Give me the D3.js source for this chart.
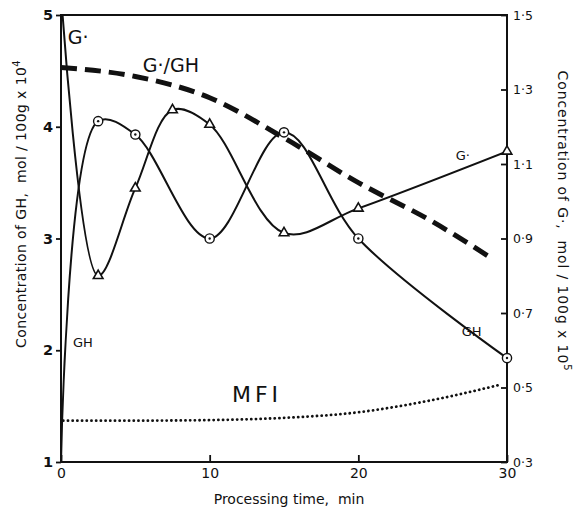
<!DOCTYPE html>
<html>
<head>
<meta charset="utf-8">
<script src="https://cdn.jsdelivr.net/npm/d3@7/dist/d3.min.js"></script>
<style>
  html, body { margin: 0; padding: 0; background: #fff; }
  svg { display: block; }
  text { font-family: "DejaVu Sans", sans-serif; fill: #111; }
</style>
</head>
<body>
<svg id="chart" width="574" height="510"></svg>
<script>
// Processing time (min)
const timeTicks = [0, 10, 20, 30];
const leftTicks = [1, 2, 3, 4, 5];
const rightTicks = [0.3, 0.5, 0.7, 0.9, 1.1, 1.3, 1.5];

// GH concentration, mol/100g x 10^4 (left axis)
const ghTimes  = [0, 2.5, 5, 10, 15, 20, 30];
const ghValues = [1.0, 4.05, 3.93, 3.0, 3.95, 3.0, 1.93];

// G· concentration, mol/100g x 10^5 (right axis)
const gTimes  = [0, 2.5, 5, 7.5, 10, 15, 20, 30];
const gValues = [1.56, 0.80, 1.035, 1.245, 1.206, 0.915, 0.981, 1.134];

// G·/GH ratio (left axis units)
const ratioTimes  = [0, 5, 10, 15, 20, 25, 29];
const ratioValues = [4.53, 4.45, 4.26, 3.90, 3.50, 3.15, 2.82];

// MFI (right axis units)
const mfiTimes  = [0.15, 5, 10, 15, 20, 25, 29.5];
const mfiValues = [0.411, 0.411, 0.4125, 0.4185, 0.4335, 0.4665, 0.507];

const svg = d3.select("#chart");
const margin = { top: 15, right: 67, bottom: 48, left: 61 };
const W = 574, H = 510;
const x0 = margin.left, x1 = W - margin.right;
const y0 = H - margin.bottom, y1 = margin.top;

const x  = d3.scaleLinear().domain([0, 30]).range([x0, x1]);
const yL = d3.scaleLinear().domain([1, 5]).range([y0, y1]);
const yR = d3.scaleLinear().domain([0.3, 1.5]).range([y0, y1]);

svg.append("defs").append("clipPath").attr("id", "plot")
  .append("rect").attr("x", x0).attr("y", y1)
  .attr("width", x1 - x0).attr("height", y0 - y1);

// Axes
function styleAxis(g, size, weight) {
  g.select(".domain").remove();
  g.selectAll(".tick line").attr("stroke", "#111").attr("stroke-width", 1.8);
  g.selectAll(".tick text").attr("font-family", "DejaVu Sans, sans-serif")
    .attr("font-size", size).attr("font-weight", weight).attr("fill", "#111");
}

svg.append("g").attr("transform", `translate(${x0},0)`)
  .call(d3.axisLeft(yL).tickValues(leftTicks).tickSize(5).tickPadding(3)
    .tickFormat(d3.format("d")))
  .call(g => styleAxis(g, 14.5, "bold"));

svg.append("g").attr("transform", `translate(0,${y0})`)
  .call(d3.axisBottom(x).tickValues(timeTicks).tickSizeInner(-7).tickSizeOuter(0).tickPadding(6)
    .tickFormat(d3.format("d")))
  .call(g => styleAxis(g, 14, "normal"));

svg.append("g").attr("transform", `translate(${x1},0)`)
  .call(d3.axisRight(yR).tickValues(rightTicks).tickSizeInner(-6).tickSizeOuter(0).tickPadding(6)
    .tickFormat(d => d3.format(".1f")(d).replace(".", "·")))
  .call(g => styleAxis(g, 12.5, "normal"));

// Frame
svg.append("rect").attr("x", x0).attr("y", y1)
  .attr("width", x1 - x0).attr("height", y0 - y1)
  .attr("fill", "none").attr("stroke", "#111").attr("stroke-width", 2);

const plot = svg.append("g").attr("clip-path", "url(#plot)");

const zip = (ts, vs) => ts.map((t, i) => ({ t, v: vs[i] }));
const ghData = zip(ghTimes, ghValues);
const gData = zip(gTimes, gValues);
const ratioData = zip(ratioTimes, ratioValues);
const mfiData = zip(mfiTimes, mfiValues);

const lineL = d3.line().x(d => x(d.t)).y(d => yL(d.v));
const lineR = d3.line().x(d => x(d.t)).y(d => yR(d.v));

// G·/GH ratio (heavy dashed)
plot.append("path").datum(ratioData)
  .attr("d", lineL.curve(d3.curveMonotoneX))
  .attr("fill", "none").attr("stroke", "#111").attr("stroke-width", 5)
  .attr("stroke-dasharray", "16,8");

// MFI (dotted)
plot.append("path").datum(mfiData)
  .attr("d", lineR.curve(d3.curveMonotoneX))
  .attr("fill", "none").attr("stroke", "#111").attr("stroke-width", 2.8)
  .attr("stroke-linecap", "round").attr("stroke-dasharray", "0.1,4.6");

// GH
plot.append("path").datum(ghData)
  .attr("d", d3.line().x(d => x(d.t)).y(d => yL(d.v)).curve(d3.curveCatmullRom.alpha(0.5)))
  .attr("fill", "none").attr("stroke", "#111").attr("stroke-width", 2);

// G·
plot.append("path").datum(gData)
  .attr("d", d3.line().x(d => x(d.t)).y(d => yR(d.v)).curve(d3.curveCatmullRom.alpha(0.5)))
  .attr("fill", "none").attr("stroke", "#111").attr("stroke-width", 2);

// GH markers: circle with centre dot
const ghMarks = svg.append("g").selectAll("g")
  .data(ghData.filter(d => d.t > 0)).join("g")
  .attr("transform", d => `translate(${x(d.t)},${yL(d.v)})`);
ghMarks.append("circle").attr("r", 4.6).attr("fill", "#fff")
  .attr("stroke", "#111").attr("stroke-width", 1.4);
ghMarks.append("circle").attr("r", 1.2).attr("fill", "#111");

// G· markers: triangles
svg.append("g").selectAll("path")
  .data(gData.filter(d => d.t > 0)).join("path")
  .attr("transform", d => `translate(${x(d.t)},${yR(d.v)})`)
  .attr("d", d3.symbol().type(d3.symbolTriangle).size(40))
  .attr("fill", "#fff").attr("stroke", "#111").attr("stroke-width", 1.6);

// Curve labels
const labels = [
  { text: "G·",    t: 0.45, v: 4.74, size: 19, spacing: 0 },
  { text: "G·/GH", t: 5.5,  v: 4.49, size: 19, spacing: 0 },
  { text: "G·",    t: 26.55, v: 3.70, size: 13, spacing: 0 },
  { text: "GH",    t: 26.95, v: 2.13, size: 13, spacing: 0 },
  { text: "GH",    t: 0.8,  v: 2.03, size: 13, spacing: 0 },
  { text: "MFI",   t: 11.5, v: 1.54, size: 22, spacing: 4 }
];
svg.append("g").selectAll("text").data(labels).join("text")
  .attr("x", d => x(d.t)).attr("y", d => yL(d.v))
  .attr("font-size", d => d.size)
  .attr("letter-spacing", d => d.spacing)
  .text(d => d.text);

// Axis titles
svg.append("text")
  .attr("x", 289).attr("y", 504)
  .attr("text-anchor", "middle").attr("font-size", 14)
  .style("white-space", "pre")
  .text("Processing time,  min");

const leftTitle = svg.append("text")
  .attr("transform", "translate(26,204) rotate(-90)")
  .attr("text-anchor", "middle").attr("font-size", 14)
  .attr("letter-spacing", 0.4)
  .style("white-space", "pre");
leftTitle.append("tspan").text("Concentration of GH,  mol / 100g x 10");
leftTitle.append("tspan").attr("dy", -6).attr("font-size", 10).text("4");

const rightTitle = svg.append("text")
  .attr("transform", "translate(558,221) rotate(90)")
  .attr("text-anchor", "middle").attr("font-size", 14)
  .attr("letter-spacing", 0.9)
  .style("white-space", "pre");
rightTitle.append("tspan").text("Concentration of G·,  mol / 100g x 10");
rightTitle.append("tspan").attr("dy", -6).attr("font-size", 10).text("5");
</script>
</body>
</html>
